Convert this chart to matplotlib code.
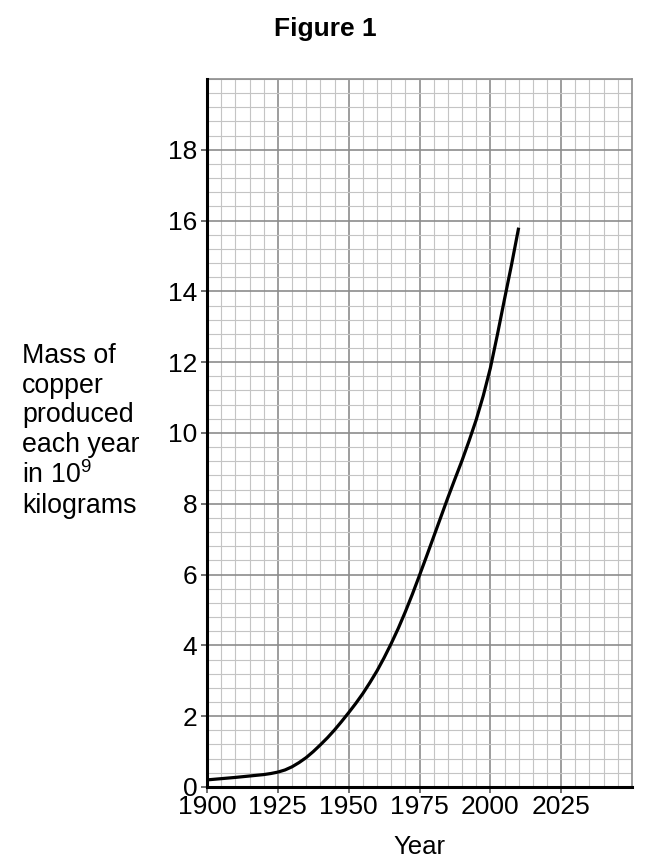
import matplotlib
matplotlib.use("Agg")
import matplotlib.pyplot as plt
from matplotlib.ticker import MultipleLocator

plt.rcParams['font.family'] = ['Liberation Sans', 'DejaVu Sans']
plt.rcParams['mathtext.fontset'] = 'custom'
plt.rcParams['mathtext.rm'] = 'Liberation Sans'

# copper production
years = [1900, 1905, 1910, 1915, 1920, 1922.5, 1925, 1927.5, 1930, 1932.5, 1935,
         1937.5, 1940, 1942.5, 1945, 1947.5, 1950, 1952.5, 1955, 1957.5, 1960,
         1962.5, 1965, 1967.5, 1970, 1972.5, 1975, 1977.5, 1980, 1982.5, 1985,
         1987.5, 1990, 1992.5, 1995, 1997.5, 2000, 2002.5, 2005, 2007.5, 2010]
mass = [0.20, 0.235, 0.27, 0.31, 0.35, 0.38, 0.42, 0.48, 0.57, 0.69, 0.83,
        1.00, 1.19, 1.39, 1.61, 1.85, 2.10, 2.36, 2.64, 2.95, 3.28,
        3.65, 4.05, 4.48, 4.95, 5.45, 5.98, 6.52, 7.07, 7.62, 8.17,
        8.70, 9.22, 9.78, 10.37, 11.05, 11.83, 12.78, 13.78, 14.76, 15.80]

xticks = [1900, 1925, 1950, 1975, 2000, 2025]
yticks = [0, 2, 4, 6, 8, 10, 12, 14, 16, 18]

fig = plt.figure(figsize=(6.5, 8.65), dpi=100)
ax = fig.add_axes([0.3185, 0.0902, 0.6538, 0.8185])

ax.set_xlim(1900, 2050)
ax.set_ylim(0, 20)

ax.xaxis.set_minor_locator(MultipleLocator(5))
ax.yaxis.set_minor_locator(MultipleLocator(0.4))
ax.xaxis.set_major_locator(MultipleLocator(25))
ax.yaxis.set_major_locator(MultipleLocator(2))
ax.grid(which='minor', color='#c4c4c4', linewidth=0.8)
ax.grid(which='major', color='#8c8c8c', linewidth=1.2)
ax.set_axisbelow(True)

ax.set_xticks(xticks)
ax.set_yticks(yticks)
ax.tick_params(which='minor', length=0)
ax.tick_params(which='major', direction='out', length=4, width=1.2,
               color='#555555', labelsize=19, pad=2)
ax.tick_params(axis='y', pad=3)

ax.plot(years, mass, color='black', linewidth=2.3, solid_capstyle='butt', zorder=3)

for s in ['left', 'bottom']:
    ax.spines[s].set_linewidth(2.2)
    ax.spines[s].set_color('black')
    ax.spines[s].set_zorder(4)
for s in ['top', 'right']:
    ax.spines[s].set_linewidth(1.2)
    ax.spines[s].set_color('#8c8c8c')

ax.set_xlabel("Year", fontsize=18.5, labelpad=11)

fig.text(0.034, 0.603,
         "Mass of\ncopper\nproduced\neach year\nin 10$^9$\nkilograms",
         fontsize=19.3, ha='left', va='top', linespacing=1.17)

fig.text(0.5, 0.967, "Figure 1", fontsize=19, fontweight='bold',
         ha='center', va='center')

fig.savefig("out.png", dpi=100)
